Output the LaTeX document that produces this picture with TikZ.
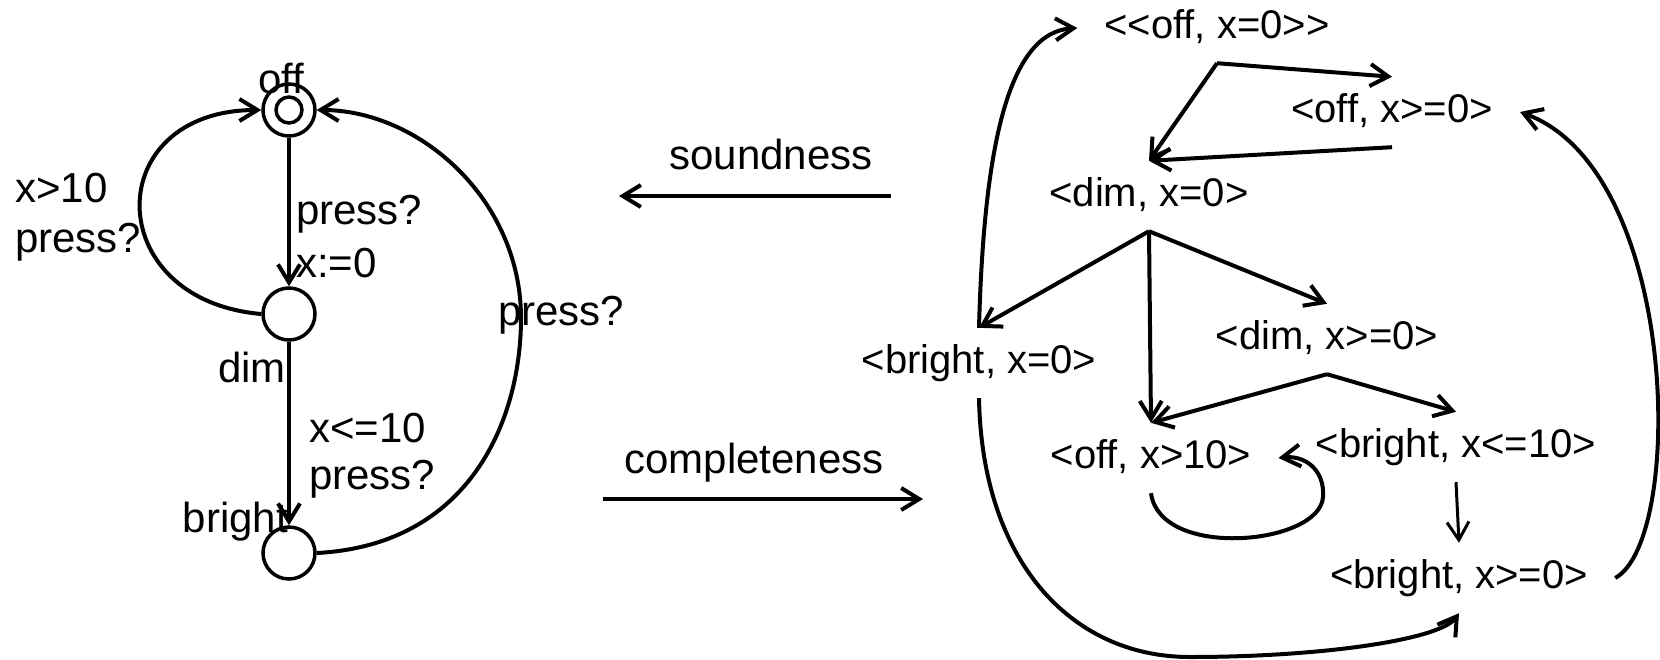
\documentclass[tikz,border=0pt]{standalone}
\usepackage{fontspec}
\setmainfont{Liberation Sans}
\usetikzlibrary{arrows.meta}
\begin{document}
\begin{tikzpicture}[x=1pt,y=-1pt,
  every node/.style={inner sep=0pt},
  lf/.style={font=\fontsize{42}{48}\selectfont},
  rf/.style={font=\fontsize{40}{46}\selectfont, minimum height=70pt, inner xsep=27pt, text height=29pt, text depth=9pt},
  loc/.style={circle, draw, line width=3.5pt, minimum size=52pt},
  ed/.style={line width=4pt, -{Straight Barb[length=18pt,width=22pt]}},
  edt/.style={line width=3pt, -{Straight Barb[length=18pt,width=22pt]}},
]
\useasboundingbox (0,0) rectangle (1660,659);
% left automaton
\node[loc] (off) at (289,110) {};
\draw[line width=3.5pt] (off.center) circle[radius=13pt];
\node[loc] (dim) at (289,314) {};
\node[loc] (bright) at (289,553) {};
\node[lf, anchor=base] (offl) at (281,93) {off};
\node[lf, anchor=base east] (diml) at (286,382) {dim};
\node[lf, anchor=base east] (brightl) at (288,532) {bright};
\node[lf, anchor=base west] (g1) at (296,224) {press?};
\node[lf, anchor=base west] (a1) at (296,277) {x:=0};
\node[lf, anchor=base west] (g2) at (309,442) {x<=10};
\node[lf, anchor=base west] (a2) at (309,489) {press?};
\node[lf, anchor=base west] (g3) at (15,202) {x>10};
\node[lf, anchor=base west] (a3) at (15,252) {press?};
\node[lf, anchor=base west] (g4) at (498,325) {press?};
\draw[ed] (off) -- (dim);
\draw[ed] (dim) -- (bright);
\draw[ed] (dim.west) .. controls (100,300) and (100,110) .. (off.west);
\draw[ed] (bright.east) .. controls (470,545) and (521,420) .. (521,318) .. controls (521,200) and (420,110) .. (off.east);
% middle
\node[lf, anchor=base] (snd) at (771,169) {soundness};
\node[lf, anchor=base] (cmp) at (754,473) {completeness};
\coordinate (s1) at (891,196);
\coordinate (s2) at (619,196);
\coordinate (c1) at (603,499);
\coordinate (c2) at (923,499);
\draw[ed] (s1) -- (s2);
\draw[ed] (c1) -- (c2);
% right: zone graph
\node[rf] (n0) at (1217,28) {<{}<off, x=0>{}>};
\node[rf] (n1) at (1392,112) {<off, x>=0>};
\node[rf] (n2) at (1149,196) {<dim, x=0>};
\node[rf] (n3) at (979,363) {<bright, x=0>};
\node[rf] (n4) at (1327,339) {<dim, x>=0>};
\node[rf] (n5) at (1151,458) {<off, x>10>};
\node[rf] (n6) at (1456,447) {<bright, x<=10>};
\node[rf] (n7) at (1459,578) {<bright, x>=0>};
\draw[ed] (n0.south) -- (n1.north);
\draw[ed] (n0.south) -- (n2.north);
\draw[ed] (n1.south) -- (n2.north);
\draw[ed] (n2.south) -- (n3.north);
\draw[ed] (n2.south) -- (n5.north);
\draw[ed] (n2.south) -- (n4.north);
\draw[ed] (n4.south) -- (n5.north);
\draw[ed] (n4.south) -- (n6.north);
\draw[edt] (n6.south) -- (n7.north);
\draw[ed] (n5.south) .. controls (1160,560) and (1320,545) .. (1323,497) .. controls (1325,470) and (1305,455) .. (n5.east);
\draw[ed] (n3.south) .. controls (982,560) and (1070,657) .. (1190,657) .. controls (1320,657) and (1440,640) .. (n7.south);
\draw[ed] (n3.north) .. controls (984,140) and (1010,32) .. (n0.west);
\draw[ed] (n7.east) .. controls (1685,540) and (1680,170) .. (n1.east);
\end{tikzpicture}
\end{document}
